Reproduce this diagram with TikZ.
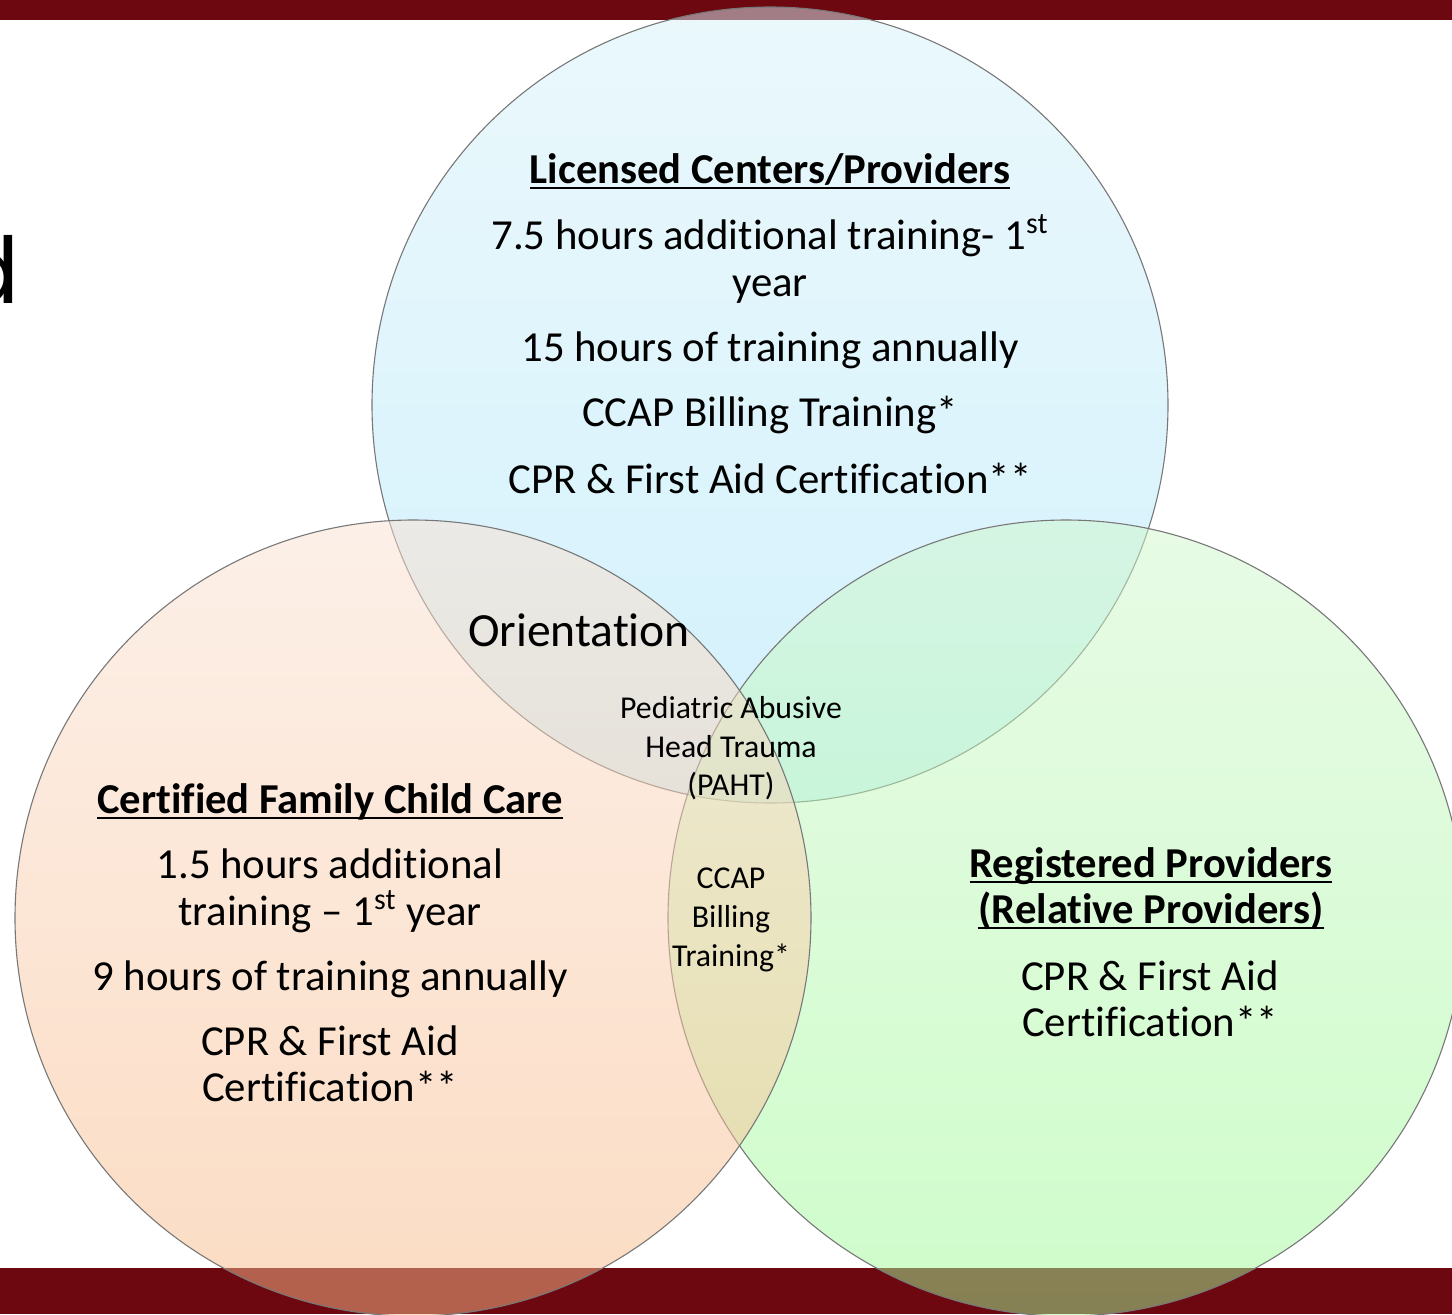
\documentclass[tikz,border=0pt]{standalone}
\usepackage{fontspec}
\setmainfont{Carlito}[Ligatures={NoCommon}]
\newfontfamily\bigfont{Poppins}
\definecolor{barred}{RGB}{109,7,16}
\definecolor{bluetop}{RGB}{215,243,251}
\definecolor{bluebot}{RGB}{168,228,251}
\definecolor{orgtop}{RGB}{251,226,210}
\definecolor{orgbot}{RGB}{249,186,136}
\definecolor{grntop}{RGB}{209,248,205}
\definecolor{grnbot}{RGB}{159,251,151}
\definecolor{ringgray}{RGB}{120,120,120}
\newcommand{\myul}[1]{\setbox0\hbox{#1}\rlap{\rule[-3.2pt]{\wd0}{1pt}}\box0}
\begin{document}
\begin{tikzpicture}[x=0.5pt,y=-0.5pt,
  ring/.style={draw=ringgray, line width=0.55pt, fill opacity=0.5},
  maintxt/.style={font=\fontsize{21.4}{23.5}\selectfont, inner sep=0pt, anchor=base},
  ttltxt/.style={font=\fontsize{21.3}{23.5}\selectfont\bfseries, inner sep=0pt, anchor=base},
  smalltxt/.style={font=\fontsize{15.9}{19}\selectfont, inner sep=0pt, anchor=base},
  midtxt/.style={font=\fontsize{23.8}{25}\selectfont, inner sep=0pt, anchor=base}]
\useasboundingbox (0,0) rectangle (1452,1314);
\fill[white] (0,0) rectangle (1452,1314);
\fill[barred] (0,0) rectangle (1452,20);
\fill[barred] (0,1268) rectangle (1452,1314);
\node[anchor=base east, inner sep=0pt, font=\bigfont\fontsize{46}{48}\selectfont] (d) at (20,303) {d};
% circles (top, right, left)
\shade[ring, top color=bluetop, bottom color=bluebot] (770,405) circle (398);
\shade[ring, top color=grntop, bottom color=grnbot] (1066,918) circle (398);
\shade[ring, top color=orgtop, bottom color=orgbot] (413,918) circle (398);
% top circle text
\node[ttltxt] (t0) at (770,183) {\myul{Licensed Centers/Providers}};
\node[maintxt] (t1) at (770,249) {7.5 hours additional training- 1\textsuperscript{st}};
\node[maintxt] (t2) at (770,296) {year};
\node[maintxt] (t3) at (770,361) {15 hours of training annually};
\node[maintxt] (t4) at (770,426) {CCAP Billing Training*};
\node[maintxt] (t5) at (770,493) {CPR \& First Aid Certification**};
% left circle text
\node[ttltxt] (l0) at (330,813) {\myul{Certified Family Child Care}};
\node[maintxt] (l1) at (330,878) {1.5 hours additional};
\node[maintxt] (l2) at (330,925) {training -- 1\textsuperscript{st} year};
\node[maintxt] (l3) at (330,990) {9 hours of training annually};
\node[maintxt] (l4) at (330,1055) {CPR \& First Aid};
\node[maintxt] (l5) at (330,1101) {Certification**};
% right circle text
\node[ttltxt] (r0) at (1151,877) {\myul{Registered Providers}};
\node[ttltxt] (r1) at (1151,923) {\myul{(Relative Providers)}};
\node[maintxt] (r2) at (1150,990) {CPR \& First Aid};
\node[maintxt] (r3) at (1150,1036) {Certification**};
% overlaps
\node[midtxt] (o0) at (579,646) {Orientation};
\node[smalltxt] (p0) at (731,718) {Pediatric Abusive};
\node[smalltxt] (p1) at (731,757) {Head Trauma};
\node[smalltxt] (p2) at (731,795) {(PAHT)};
\node[smalltxt] (c0) at (731,888) {CCAP};
\node[smalltxt] (c1) at (731,927) {Billing};
\node[smalltxt] (c2) at (731,966) {Training*};
\end{tikzpicture}
\end{document}
